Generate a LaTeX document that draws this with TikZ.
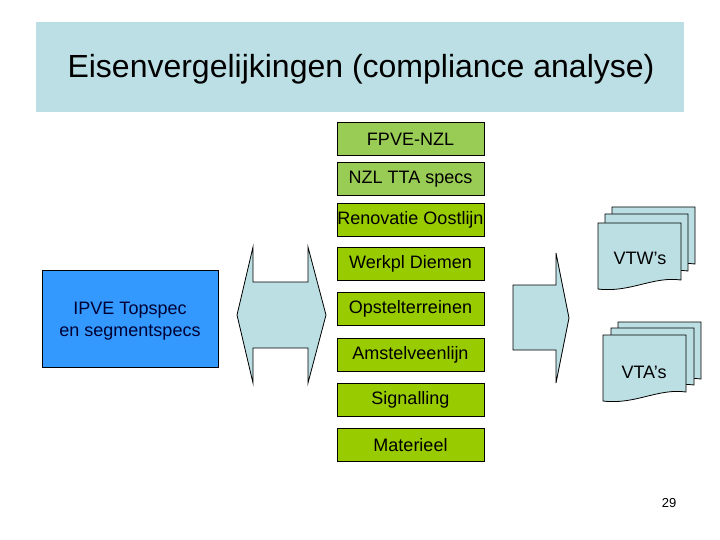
\documentclass[tikz,border=0pt]{standalone}
\usepackage{fontspec}
\setmainfont{Liberation Sans}
\definecolor{bandblue}{HTML}{BCDFE5}
\definecolor{shapeblue}{HTML}{BCDFE3}
\definecolor{greenA}{HTML}{99CC55}
\definecolor{greenB}{HTML}{99CC00}
\definecolor{ipveblue}{HTML}{3399FF}
\definecolor{navy}{HTML}{000033}
\newcommand\docpg[3]{%
  \filldraw[docstyle] (#1,#2) -- ({#1+83},#2) -- ({#1+83},{#2+57})
    .. controls ({#1+55},{#2+53}) and ({#1+32},{#2+70}) .. (#1,{#2+66}) -- cycle;}
\begin{document}
\begin{tikzpicture}[x=1pt,y=-1pt,
  greenbox/.style={draw=black, line width=0.8pt, minimum width=147pt, minimum height=33pt, inner sep=0pt, font=\fontsize{18}{21}\selectfont},
  arrowshape/.style={draw=black, fill=shapeblue, line width=0.8pt},
  docstyle/.style={draw=black, fill=shapeblue, line width=0.8pt},
  lbl/.style={font=\fontsize{18}{21}\selectfont}]
\useasboundingbox (0,0) rectangle (720,540);
\fill[white] (0,0) rectangle (720,540);
% title band
\node[fill=bandblue, minimum width=648pt, minimum height=90pt, inner sep=0pt] (band) at (360,67) {};
\node (title) at (361,69) {\fontsize{32}{36}\selectfont Eisenvergelijkingen (compliance analyse)};
% double arrow
\draw[arrowshape] (253,247) -- (253,282) -- (308,282) -- (308,247) -- (326,315) -- (308,383)
  -- (308,348) -- (253,348) -- (253,383) -- (237,315) -- cycle;
% right arrow
\draw[arrowshape] (513,285) -- (556,285) -- (556,253) -- (569,318) -- (556,383) -- (556,350) -- (513,350) -- cycle;
% IPVE box
\node[draw=black, fill=ipveblue, line width=0.8pt, minimum width=176pt, minimum height=97pt, inner sep=0pt] (ipve) at (130,318.5) {};
\node[align=center, text=navy, font=\fontsize{18}{22}\selectfont] (ipvetext) at (130,321) {IPVE Topspec\\en segmentspecs};
% green boxes
\node[greenbox, fill=greenA] (fpve) at (410.5,139) {FPVE-NZL};
\node[greenbox, fill=greenA] (nzl) at (410.5,179) {NZL TTA specs};
\node[greenbox, fill=greenB] (reno) at (410.5,219.5) {Renovatie Oostlijn};
\node[greenbox, fill=greenB] (werk) at (410.5,264) {Werkpl Diemen};
\node[greenbox, fill=greenB] (opst) at (410.5,309) {Opstelterreinen};
\node[greenbox, fill=greenB] (amst) at (410.5,355) {Amstelveenlijn};
\node[greenbox, fill=greenB] (sign) at (410.5,400) {Signalling};
\node[greenbox, fill=greenB] (mat) at (410.5,445) {Materieel};
% documents VTW
\docpg{612}{207}{}
\docpg{605}{214}{}
\docpg{598}{223}{}
\node[lbl] (vtw) at (640,258) {VTW’s};
% documents VTA
\docpg{618}{322}{}
\docpg{611}{328}{}
\docpg{603}{335}{}
\node[lbl] (vta) at (644,372) {VTA’s};
% page number
\node[font=\fontsize{13}{15}\selectfont] (pnum) at (669,503) {29};
\end{tikzpicture}
\end{document}
